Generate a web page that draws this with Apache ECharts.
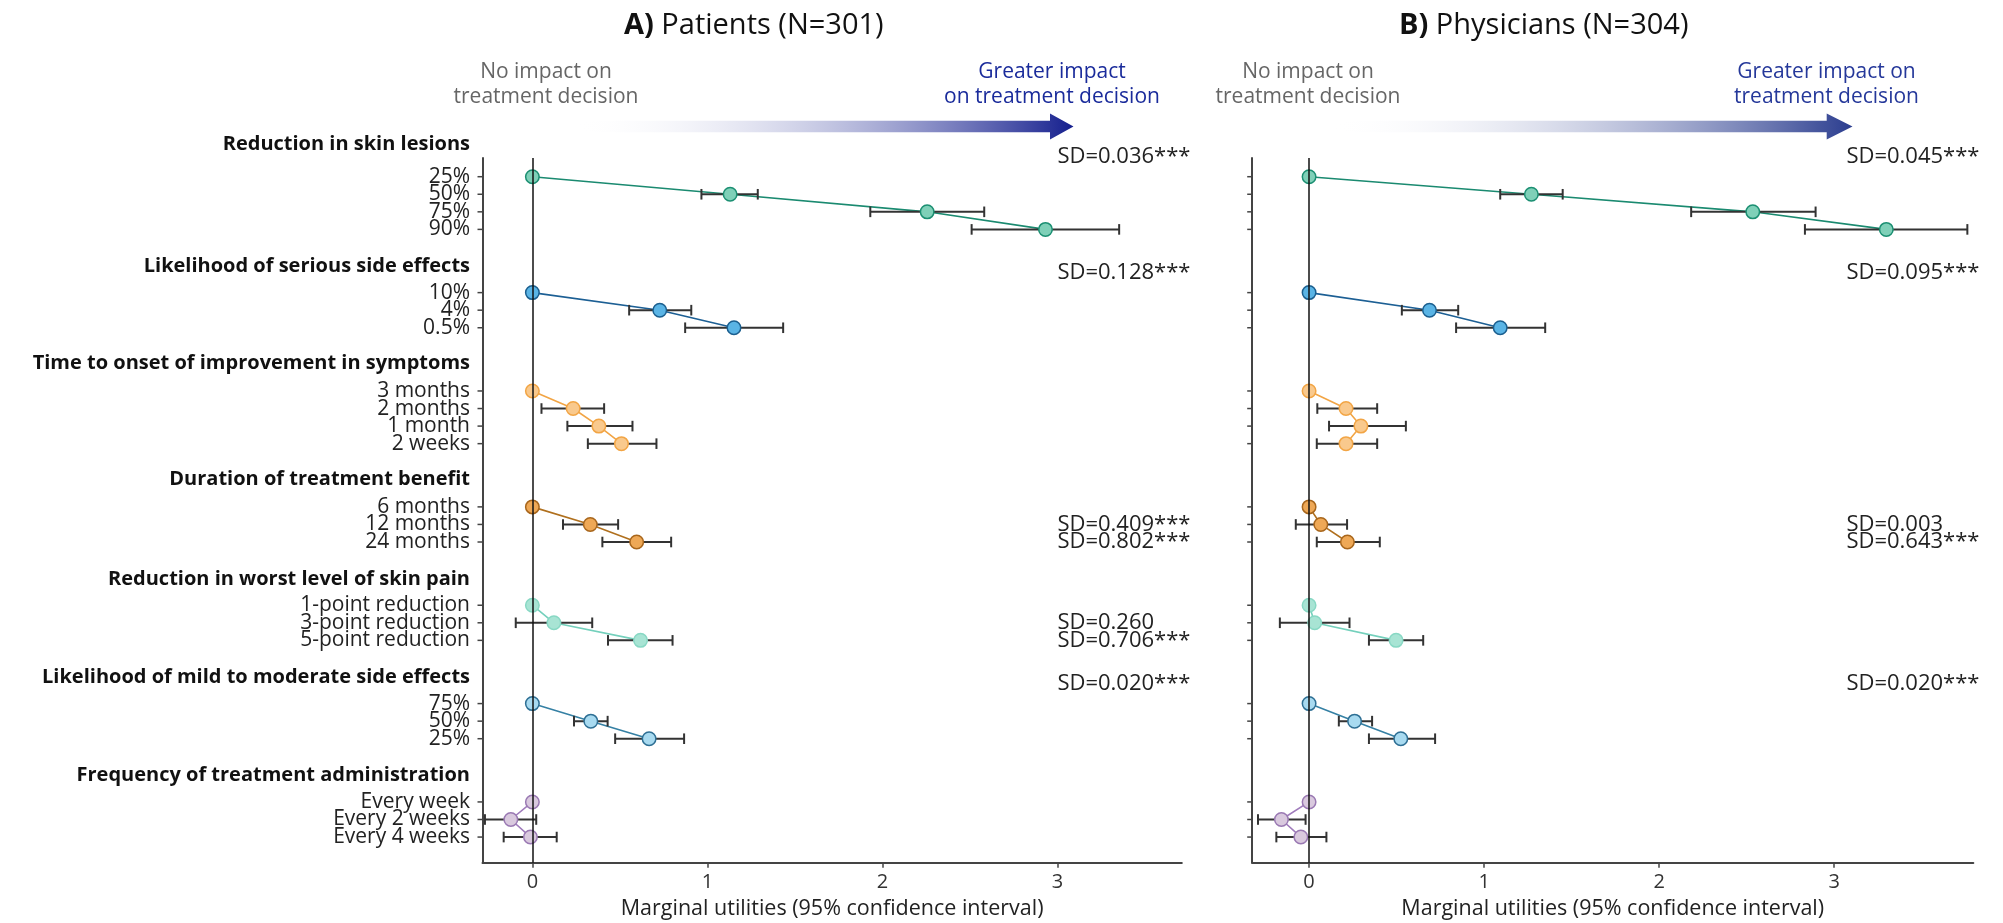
<!DOCTYPE html>
<html><head><meta charset="utf-8">
<script src="https://cdn.jsdelivr.net/npm/echarts@6/dist/echarts.min.js"></script>
<style>html,body{margin:0;padding:0;background:#fff}#c{width:2003px;height:923px}</style>
</head><body><div id="c"></div>
<script>
// ---------------- DATA ----------------
const attributes = [
  'Reduction in skin lesions',
  'Likelihood of serious side effects',
  'Time to onset of improvement in symptoms',
  'Duration of treatment benefit',
  'Reduction in worst level of skin pain',
  'Likelihood of mild to moderate side effects',
  'Frequency of treatment administration'
];
const levelLabels = [
  ['25%', '50%', '75%', '90%'],
  ['10%', '4%', '0.5%'],
  ['3 months', '2 months', '1 month', '2 weeks'],
  ['6 months', '12 months', '24 months'],
  ['1-point reduction', '3-point reduction', '5-point reduction'],
  ['75%', '50%', '25%'],
  ['Every week', 'Every 2 weeks', 'Every 4 weeks']
];
const patientsEstimate = [
  [0, 1.13, 2.256, 2.932],
  [0, 0.728, 1.152],
  [0, 0.233, 0.38, 0.509],
  [0, 0.331, 0.596],
  [0, 0.123, 0.618],
  [0, 0.334, 0.667],
  [0, -0.123, -0.011]
];
const patientsLower = [
  [null, 0.966, 1.931, 2.51],
  [null, 0.553, 0.873],
  [null, 0.052, 0.2, 0.317],
  [null, 0.175, 0.4],
  [null, -0.095, 0.432],
  [null, 0.238, 0.473],
  [null, -0.271, -0.164]
];
const patientsUpper = [
  [null, 1.288, 2.582, 3.353],
  [null, 0.908, 1.433],
  [null, 0.41, 0.572, 0.709],
  [null, 0.49, 0.793],
  [null, 0.342, 0.801],
  [null, 0.43, 0.867],
  [null, 0.022, 0.139]
];
const physiciansEstimate = [
  [0, 1.27, 2.535, 3.298],
  [0, 0.688, 1.092],
  [0, 0.211, 0.296, 0.211],
  [0, 0.067, 0.219],
  [0, 0.032, 0.497],
  [0, 0.26, 0.524],
  [0, -0.158, -0.047]
];
const physiciansLower = [
  [null, 1.092, 2.183, 2.833],
  [null, 0.53, 0.84],
  [null, 0.047, 0.114, 0.044],
  [null, -0.076, 0.044],
  [null, -0.167, 0.342],
  [null, 0.17, 0.342],
  [null, -0.292, -0.187]
];
const physiciansUpper = [
  [null, 1.449, 2.894, 3.761],
  [null, 0.852, 1.349],
  [null, 0.389, 0.553, 0.389],
  [null, 0.217, 0.404],
  [null, 0.231, 0.652],
  [null, 0.36, 0.72],
  [null, -0.02, 0.099]
];
// SD labels: string = attribute-level, array = per level
const patientsSD = ['SD=0.036***', 'SD=0.128***', null, [null, 'SD=0.409***', 'SD=0.802***'], [null, 'SD=0.260', 'SD=0.706***'], 'SD=0.020***', null];
const physiciansSD = ['SD=0.045***', 'SD=0.095***', null, [null, 'SD=0.003', 'SD=0.643***'], null, 'SD=0.020***', null];
const xTicks = [0, 1, 2, 3];
const panelTitles = [['A)', 'Patients (N=301)'], ['B)', 'Physicians (N=304)']];
const xAxisTitle = 'Marginal utilities (95% confidence interval)';

// ---------------- STYLE ----------------
const FONT = 'Open Sans';
const lineColors   = ['#1a8a70', '#1c5f94', '#f2a545', '#b0701e', '#74d0bc', '#3580a4', '#a07cbc'];
const fillColors   = ['#7fd0b8', '#5ab4e5', '#f9c98d', '#eea856', '#a8e4d4', '#a8daf0', '#d9c9de'];
const borderColors = ['#1b8f72', '#1b5f8f', '#f2a545', '#a8661c', '#88d8c4', '#2e6f94', '#9a79b3'];

// ---------------- LAYOUT ----------------
const ROW_GAP = 3.6;
const HEADER_OFFSET = [1.82, 1.52, 1.56, 1.55, 1.5, 1.5, 1.52];
const SD_OFFSET = 1.14;
const groupStart = [];
(function(){ let p = 0; levelLabels.forEach(lv => { groupStart.push(p); p += lv.length - 1 + ROW_GAP; }); })();
const levelPos = levelLabels.map((lv, g) => lv.map((_, j) => groupStart[g] + j));
const Y_MIN = -1.065, Y_MAX = 39.06;

const panels = [
  { grid: { left: 482.5, top: 158, width: 699.3, height: 704.7 }, xMin: -0.285, xMax: 3.711,
    est: patientsEstimate, lo: patientsLower, hi: patientsUpper, sd: patientsSD, sdX: 3.0, showLabels: true },
  { grid: { left: 1252.2, top: 158, width: 721.1, height: 704.7 }, xMin: -0.325, xMax: 3.795,
    est: physiciansEstimate, lo: physiciansLower, hi: physiciansUpper, sd: physiciansSD, sdX: 3.07, showLabels: false }
];

const chart = echarts.init(document.getElementById('c'), null, { renderer: 'canvas' });
const grids = [], xAxes = [], yAxes = [], series = [];

panels.forEach((panel, pi) => {
  grids.push(Object.assign({ containLabel: false, outerBoundsMode: 'none' }, panel.grid));
  xAxes.push({
    type: 'value', gridIndex: pi, min: panel.xMin, max: panel.xMax,
    splitLine: { show: false },
    axisLine: { show: true, onZero: false, lineStyle: { color: '#444', width: 2 } },
    axisTick: { show: true, customValues: xTicks, length: 5, lineStyle: { color: '#444', width: 1.5 } },
    axisLabel: { show: true, customValues: xTicks, fontSize: 20, fontFamily: FONT, color: '#333', margin: 10 },
    name: xAxisTitle, nameLocation: 'middle', nameGap: 33,
    nameTextStyle: { fontSize: 21.5, fontFamily: FONT, color: '#222' }
  });
  yAxes.push({
    type: 'value', gridIndex: pi, min: Y_MIN, max: Y_MAX, inverse: true,
    splitLine: { show: false },
    axisLine: { show: true, onZero: false, lineStyle: { color: '#444', width: 2 } },
    axisTick: { show: false }, axisLabel: { show: false }
  });

  // connecting lines
  levelLabels.forEach((lv, g) => {
    series.push({
      type: 'line', xAxisIndex: pi, yAxisIndex: pi, z: 2, silent: true,
      showSymbol: false, animation: false,
      data: lv.map((_, j) => [panel.est[g][j], levelPos[g][j]]),
      lineStyle: { color: lineColors[g], width: 1.6 }
    });
  });

  // error bars + zero line
  const ebData = [];
  levelLabels.forEach((lv, g) => lv.forEach((_, j) => {
    if (panel.lo[g][j] != null) ebData.push([panel.lo[g][j], panel.hi[g][j], levelPos[g][j]]);
  }));
  series.push({
    type: 'custom', xAxisIndex: pi, yAxisIndex: pi, z: 3, silent: true, animation: false,
    encode: { x: [0, 1], y: 2 },
    data: ebData,
    renderItem(params, api) {
      const a = api.coord([api.value(0), api.value(2)]);
      const b = api.coord([api.value(1), api.value(2)]);
      const h = 5.3, st = { stroke: '#333', lineWidth: 2 };
      return { type: 'group', children: [
        { type: 'line', shape: { x1: a[0], y1: a[1], x2: b[0], y2: b[1] }, style: st },
        { type: 'line', shape: { x1: a[0], y1: a[1] - h, x2: a[0], y2: a[1] + h }, style: st },
        { type: 'line', shape: { x1: b[0], y1: b[1] - h, x2: b[0], y2: b[1] + h }, style: st }
      ]};
    },
    markLine: {
      silent: true, symbol: 'none', animation: false, label: { show: false },
      lineStyle: { color: '#111', width: 1.5, type: 'solid' },
      data: [{ xAxis: 0 }]
    }
  });

  // points
  levelLabels.forEach((lv, g) => {
    series.push({
      type: 'scatter', xAxisIndex: pi, yAxisIndex: pi, z: 4, silent: true, animation: false,
      symbol: 'circle', symbolSize: 13.5,
      data: lv.map((_, j) => [panel.est[g][j], levelPos[g][j]]),
      itemStyle: { color: fillColors[g], borderColor: borderColors[g], borderWidth: 1.5, opacity: 1 }
    });
  });

  // annotations: y ticks, level labels, attribute headers, SD labels
  series.push({
    type: 'custom', xAxisIndex: pi, yAxisIndex: pi, z: 5, clip: false, silent: true, animation: false,
    data: [[0, 0]],
    renderItem(params, api) {
      const children = [];
      const axisX = api.coord([panel.xMin, 0])[0];
      const sdPx = api.coord([panel.sdX, 0])[0];
      const txt = (x, y, text, extra) => ({ type: 'text', style: Object.assign({
        x, y, text, verticalAlign: 'middle', fontSize: 21, fontFamily: FONT, fill: '#222' }, extra) });
      levelLabels.forEach((lv, g) => {
        lv.forEach((lab, j) => {
          const y = api.coord([0, levelPos[g][j]])[1];
          children.push({ type: 'line', shape: { x1: axisX - 5, y1: y, x2: axisX, y2: y }, style: { stroke: '#444', lineWidth: 1.5 } });
          if (panel.showLabels) children.push(txt(axisX - 12.5, y, lab, { align: 'right' }));
        });
        if (panel.showLabels) {
          const hy = api.coord([0, groupStart[g] - HEADER_OFFSET[g]])[1];
          children.push(txt(axisX - 12.5, hy, attributes[g], { align: 'right', fontWeight: 'bold', fontSize: 20, fill: '#111' }));
        }
        const sd = panel.sd[g];
        if (typeof sd === 'string') {
          const y = api.coord([0, groupStart[g] - SD_OFFSET])[1];
          children.push(txt(sdPx, y, sd, { align: 'left', fontSize: 22 }));
        } else if (Array.isArray(sd)) {
          sd.forEach((s, j) => {
            if (!s) return;
            const y = api.coord([0, levelPos[g][j]])[1];
            children.push(txt(sdPx, y, s, { align: 'left', fontSize: 22 }));
          });
        }
      });
      return { type: 'group', children };
    }
  });
});

// header graphics: titles, direction notes, arrows
function arrow(x0, xBase, xTip, color) {
  const yc = 126.5, sh = 5.8, hh = 13;
  return {
    type: 'polygon', silent: true,
    shape: { points: [[x0, yc - sh], [xBase, yc - sh], [xBase, yc - hh], [xTip, yc], [xBase, yc + hh], [xBase, yc + sh], [x0, yc + sh]] },
    style: { fill: { type: 'linear', x: 0, y: 0, x2: 1, y2: 0, colorStops: [
      { offset: 0, color: 'rgba(255,255,255,0)' }, { offset: 1, color: color } ] } }
  };
}
function title(x, t) {
  return { type: 'text', x, y: 26, style: { text: '{b|' + t[0] + '}{r| ' + t[1] + '}', verticalAlign: 'middle',
    rich: { b: { fontSize: 29, fontWeight: 'bold', fontFamily: FONT, fill: '#111' }, r: { fontSize: 29, fontFamily: FONT, fill: '#111' } } } };
}
function note(x, text, color) {
  return { type: 'text', x, y: 84.2, style: { text, align: 'center', verticalAlign: 'middle', lineHeight: 25, fontSize: 21, fontFamily: FONT, fill: color } };
}
const graphic = [
  title(624, panelTitles[0]),
  title(1399, panelTitles[1]),
  note(546, 'No impact on\ntreatment decision', '#666'),
  note(1308, 'No impact on\ntreatment decision', '#666'),
  note(1052, 'Greater impact\non treatment decision', '#1a2b9b'),
  note(1826.5, 'Greater impact on\ntreatment decision', '#25389a'),
  arrow(575, 1050, 1073.5, '#151f8e'),
  arrow(1332, 1826.7, 1852.5, '#2b3d8f')
];

chart.setOption({
  animation: false,
  backgroundColor: '#ffffff',
  grid: grids, xAxis: xAxes, yAxis: yAxes, series, graphic
});
</script>
</body></html>
